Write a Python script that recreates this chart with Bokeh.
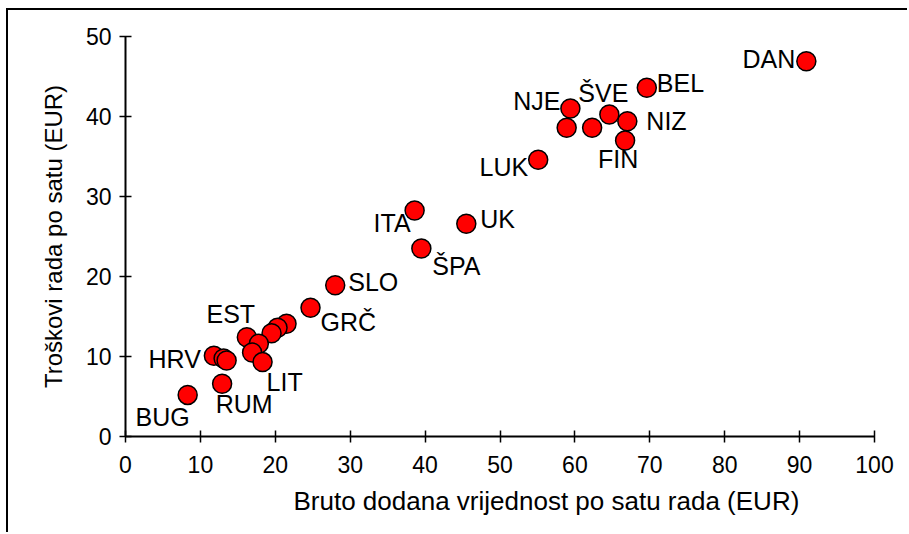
from bokeh.plotting import figure
from bokeh.models import ColumnDataSource, Range1d, FixedTicker, LabelSet, Title
from bokeh.core.properties import value
from bokeh.embed import file_html
from bokeh.resources import INLINE

# Data (EUR per hour)
countries = ["DAN", "BEL", "ŠVE", "NJE", "NIZ", "FIN", "", "", "LUK", "ITA", "UK", "ŠPA",
             "SLO", "GRČ", "", "", "", "EST", "", "", "LIT", "HRV", "", "", "RUM", "BUG"]
gva = [90.9, 69.6, 64.6, 59.4, 67.0, 66.7, 58.9, 62.3, 55.1, 38.6, 45.5, 39.5,
       28.0, 24.7, 21.5, 20.3, 19.5, 16.2, 17.8, 16.9, 18.3, 11.8, 13.1, 13.5, 12.9, 8.3]
labour_cost = [46.9, 43.6, 40.25, 41.0, 39.4, 37.0, 38.6, 38.6, 34.6, 28.25, 26.6, 23.5,
               18.9, 16.1, 14.1, 13.6, 12.9, 12.4, 11.6, 10.5, 9.3, 10.1, 9.75, 9.5, 6.6, 5.2]
x_ticks = [0, 10, 20, 30, 40, 50, 60, 70, 80, 90, 100]
y_ticks = [0, 10, 20, 30, 40, 50]
x_title = "Bruto dodana vrijednost po satu rada (EUR)"
y_title = "Troškovi rada po satu (EUR)"

# label offsets (screen px) and alignment
lab_dx = [-11, 10, -6, -10, 19, -7, 0, 0, -10, -4, 14, 11,
          13, 10, 0, 0, 0, -16, 0, 0, 4, -13, 0, 0, 22, -25]
lab_dy = [2, 5, 22, 8, 0, -18, 0, 0, -7, -12, 5, -17,
          3, -14, 0, 0, 0, 23, 0, 0, -20, -3, 0, 0, -20, -22]
lab_align = ["right", "left", "center", "right", "left", "center", "left", "left", "right", "right",
             "left", "left", "left", "left", "left", "left", "left", "center", "left", "left",
             "left", "right", "left", "left", "center", "center"]

src = ColumnDataSource(dict(x=gva, y=labour_cost, name=countries,
                            dx=lab_dx, dy=lab_dy, align=lab_align))

p = figure(width=901, height=524, output_backend="svg", toolbar_location=None,
           x_range=Range1d(0, 100), y_range=Range1d(0, 50),
           min_border_left=117, min_border_right=35, min_border_top=26, min_border_bottom=98)
p.styles = {"border-top": "2px solid black", "border-left": "2px solid black",
            "margin-left": "6px", "margin-top": "8px"}
p.outline_line_color = None
p.xgrid.grid_line_color = None
p.ygrid.grid_line_color = None

for ax in (p.xaxis[0], p.yaxis[0]):
    ax.axis_line_width = 2
    ax.axis_line_color = "black"
    ax.major_tick_line_color = "black"
    ax.major_tick_line_width = 1.5
    ax.major_tick_in = 6
    ax.major_tick_out = 6
    ax.minor_tick_line_color = None
    ax.major_label_text_font = "Liberation Sans"
    ax.major_label_text_font_size = "23px"
    ax.major_label_text_color = "black"
    ax.axis_label_text_font = "Liberation Sans"
    ax.axis_label_text_font_style = "normal"
    ax.axis_label_text_color = "black"

p.xaxis[0].ticker = FixedTicker(ticks=x_ticks)
p.yaxis[0].ticker = FixedTicker(ticks=y_ticks)
p.yaxis[0].axis_label = y_title
p.yaxis[0].axis_label_text_font_size = "24px"
p.xaxis[0].major_label_standoff = 13
p.yaxis[0].major_label_standoff = 8
p.yaxis[0].axis_label_standoff = 16

xt = Title(text=x_title, align="left", offset=168, text_font="Liberation Sans",
           text_font_size="26px", text_font_style="normal", text_color="black",
           standoff=16)
p.add_layout(xt, "below")

p.scatter("x", "y", source=src, size=19, fill_color="#ff0000",
          line_color="black", line_width=1.5)

labels = LabelSet(x="x", y="y", text="name", source=src, x_offset="dx", y_offset="dy",
                  text_align="align", text_baseline="middle",
                  text_font=value("Liberation Sans"), text_font_size="25px", text_color="black")
p.add_layout(labels)

open("out.html", "w").write(file_html(p, INLINE))
